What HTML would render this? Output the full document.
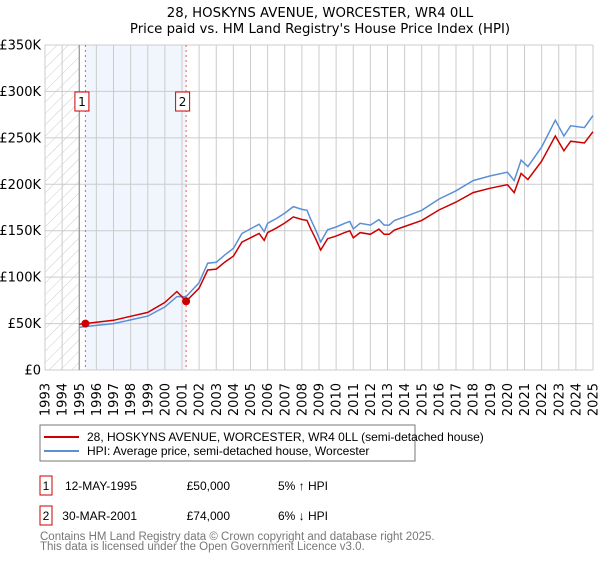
<!DOCTYPE html>
<html><head><meta charset="utf-8"><style>
body{margin:0;background:#fff;font-family:"DejaVu Sans","Liberation Sans",sans-serif;}
svg text{font-family:"DejaVu Sans","Liberation Sans",sans-serif;}
svg text.ls{font-family:"Liberation Sans","DejaVu Sans",sans-serif;}
</style></head><body>
<svg id="chart" width="600" height="560" xmlns="http://www.w3.org/2000/svg">
<defs><pattern id="hatch" width="8" height="8" patternUnits="userSpaceOnUse" patternTransform="rotate(45)"><line x1="0" y1="0" x2="0" y2="8" stroke="#ccc" stroke-width="1"/></pattern></defs>
<text x="320" y="17" text-anchor="middle" font-size="13.3" fill="#000">28, HOSKYNS AVENUE, WORCESTER, WR4 0LL</text>
<text x="320" y="33" text-anchor="middle" font-size="13.3" fill="#000">Price paid vs. HM Land Registry's House Price Index (HPI)</text>
<g id="plot"></g>
<g>
<rect x="40" y="425" width="375" height="36" fill="#fff" stroke="#777"/>
<line x1="44" y1="437" x2="79" y2="437" stroke="#cc0000" stroke-width="2"/>
<text class="ls" x="87" y="441" font-size="12">28, HOSKYNS AVENUE, WORCESTER, WR4 0LL (semi-detached house)</text>
<line x1="44" y1="451" x2="79" y2="451" stroke="#5b8fd6" stroke-width="2"/>
<text class="ls" x="87" y="455" font-size="12">HPI: Average price, semi-detached house, Worcester</text>
</g>
<g font-size="12">
<rect x="40" y="476" width="12" height="19" fill="#fff" stroke="#cc0000"/>
<text class="ls" x="46" y="490" text-anchor="middle">1</text>
<text class="ls" x="137" y="490" text-anchor="end">12-MAY-1995</text>
<text class="ls" x="230" y="490" text-anchor="end">£50,000</text>
<text class="ls" x="278" y="490">5% ↑ HPI</text>
<rect x="40" y="506" width="12" height="19" fill="#fff" stroke="#cc0000"/>
<text class="ls" x="46" y="520" text-anchor="middle">2</text>
<text class="ls" x="137" y="520" text-anchor="end">30-MAR-2001</text>
<text class="ls" x="230" y="520" text-anchor="end">£74,000</text>
<text class="ls" x="278" y="520">6% ↓ HPI</text>
</g>
<text class="ls" x="40" y="540" font-size="11.5" fill="#777">Contains HM Land Registry data © Crown copyright and database right 2025.</text>
<text class="ls" x="40" y="550" font-size="11.5" fill="#777">This data is licensed under the Open Government Licence v3.0.</text>
</svg>
<script>
const hpiYears=[1995,1996,1997,1998,1999,2000,2000.7,2001.24,2002,2002.5,2003,2003.5,2004,2004.5,2005,2005.5,2005.8,2006,2006.5,2007,2007.5,2008,2008.3,2008.5,2008.8,2009.1,2009.5,2010,2010.5,2010.8,2011,2011.4,2012,2012.5,2012.8,2013.1,2013.4,2014,2015,2016,2017,2018,2019,2020,2020.4,2020.8,2021.2,2022,2022.8,2023.3,2023.7,2024.5,2025];
const hpiValues=[46,48,50,54,58,68,79,79,94,115,116,124,131,147,152,157,149,158,163,169,176,173,172,163,151,138,151,154,158,160,152,158,156,162,156,156,161,165,172,184,193,204,209,213,204,226,219,240,269,252,263,261,274];
const saleYears=[1995.36,2001.24];
const salePrices=[50,74];
const saleLabels=["1","2"];
const yTicks=[0,50,100,150,200,250,300,350];
const yTickLabels=["£0","£50K","£100K","£150K","£200K","£250K","£300K","£350K"];
const xTicks=[1993,1994,1995,1996,1997,1998,1999,2000,2001,2002,2003,2004,2005,2006,2007,2008,2009,2010,2011,2012,2013,2014,2015,2016,2017,2018,2019,2020,2021,2022,2023,2024,2025];

const L=45,R=593,T=45,B=370,X0=1993,X1=2025,YMAX=350;
const xs=v=>L+(v-X0)/(X1-X0)*(R-L);
const ys=v=>B-v/YMAX*(B-T);
const NS="http://www.w3.org/2000/svg";
const g=document.getElementById('plot');
function mk(tag,attrs,parent){const e=document.createElementNS(NS,tag);for(const k in attrs)e.setAttribute(k,attrs[k]);(parent||g).appendChild(e);return e;}
function hpiAt(t){for(let i=0;i<hpiYears.length-1;i++){if(t<=hpiYears[i+1]){const f=(t-hpiYears[i])/(hpiYears[i+1]-hpiYears[i]);return hpiValues[i]+f*(hpiValues[i+1]-hpiValues[i]);}}return hpiValues[hpiValues.length-1];}

let e=mk('rect',{x:xs(X0),y:T,width:xs(1995)-xs(X0),height:B-T,fill:'url(#hatch)'});


e=mk('rect',{x:xs(saleYears[0]),y:T,width:xs(saleYears[1])-xs(saleYears[0]),height:B-T,fill:'#eef3fc',opacity:0.8});


yTicks.forEach((v,i)=>{
 let l=mk('line',{x1:L,x2:R,y1:ys(v),y2:ys(v),stroke:'#ccc','stroke-width':1});
 
 
 let t=mk('text',{x:L-4,y:ys(v)+4.5,'text-anchor':'end','font-size':13});
 t.textContent=yTickLabels[i];
 
 
});
xTicks.forEach(v=>{
 let l=mk('line',{x1:xs(v),x2:xs(v),y1:T,y2:B,stroke:'#ccc','stroke-width':1});
 
 
 let t=mk('text',{x:0,y:0,'text-anchor':'end','font-size':13,transform:`translate(${xs(v)+4.5},${B+13}) rotate(-90)`});
 t.textContent=v;
 
 
});
e=mk('line',{x1:xs(1995),x2:xs(1995),y1:T,y2:B,stroke:'#888','stroke-width':1});


saleYears.forEach((sy,i)=>{
 let l=mk('line',{x1:xs(sy),x2:xs(sy),y1:T,y2:B,stroke:'#e06060','stroke-width':1,'stroke-dasharray':'2,3'});
 
 
 let r=mk('rect',{x:xs(sy)-10.5,y:92,width:14,height:19,fill:'#fff',stroke:'#cc0000'});
 
 
 let t=mk('text',{x:xs(sy)-3.5,y:106,'text-anchor':'middle','font-size':12});
 t.textContent=saleLabels[i];
 
 
});
let d='';
hpiYears.forEach((y,i)=>{d+=(i?'L':'M')+xs(y).toFixed(1)+','+ys(hpiValues[i]).toFixed(1);});
e=mk('path',{d:d,fill:'none',stroke:'#5b8fd6','stroke-width':1.5});


let d2='';
hpiYears.forEach((y,i)=>{
 let k=saleYears[0];let p=salePrices[0];
 for(let j=0;j<saleYears.length;j++){if(y>=saleYears[j]){k=saleYears[j];p=salePrices[j];}}
 const v=p*hpiValues[i]/hpiAt(k);
 d2+=(i?'L':'M')+xs(y).toFixed(1)+','+ys(v).toFixed(1);
});
e=mk('path',{d:d2,fill:'none',stroke:'#cc0000','stroke-width':1.5});


saleYears.forEach((sy,i)=>{
 let c=mk('circle',{cx:xs(sy),cy:ys(salePrices[i]),r:4,fill:'#cc0000'});
 
 
});
</script>
</body></html>
